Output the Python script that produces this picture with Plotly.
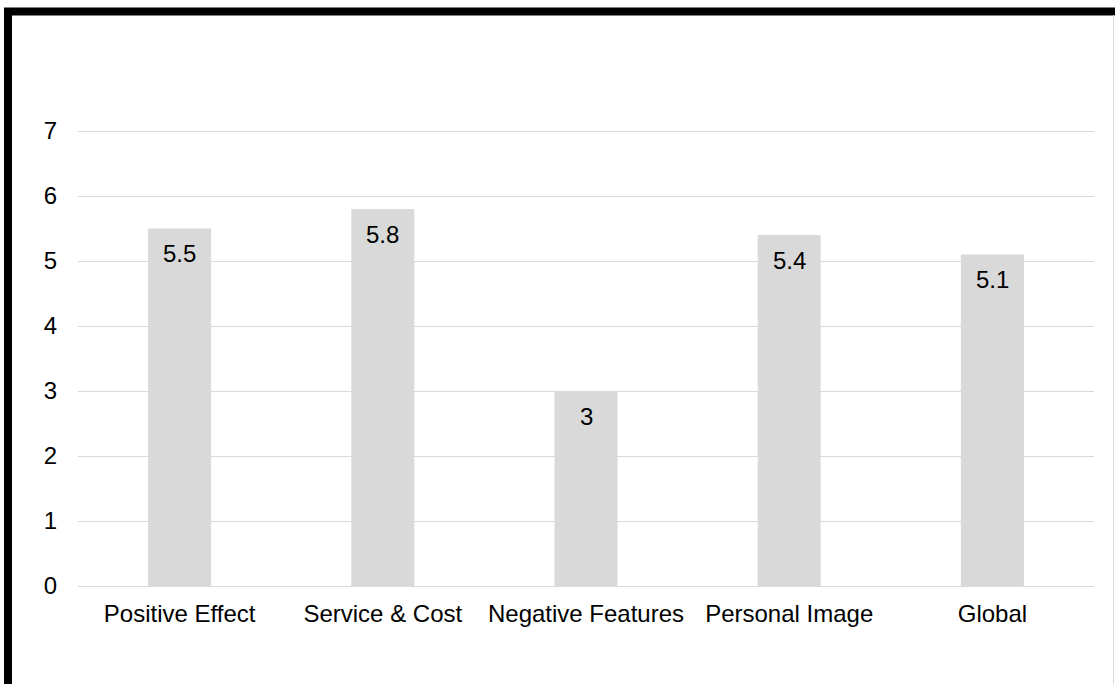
import plotly.graph_objects as go

categories = ["Positive Effect", "Service & Cost", "Negative Features", "Personal Image", "Global"]
values = [5.5, 5.8, 3, 5.4, 5.1]
value_labels = ["5.5", "5.8", "3", "5.4", "5.1"]
y_ticks = [0, 1, 2, 3, 4, 5, 6, 7]

W, H = 1115, 684
L, R, T, B = 78, 21, 128, 98
Y_TOP = (H - B - T) / 65.0
FONT = "Arial, Liberation Sans, sans-serif"

fig = go.Figure(go.Bar(x=categories, y=values, marker=dict(color="#d9d9d9", line=dict(width=0)),
                       hoverinfo="x+y"))

for c, v, t in zip(categories, values, value_labels):
    fig.add_annotation(x=c, y=v, text=t, showarrow=False, yanchor="middle", yshift=-25,
                       font=dict(family=FONT, size=24, color="#000000"))

pw = W - L - R
ph = H - T - B
def px_x(p):
    return (p - L) / pw
def px_y(p):
    return 1 - (p - T) / ph

fig.add_shape(type="rect", xref="paper", yref="paper",
              x0=px_x(8), x1=px_x(W + 20), y0=px_y(11.5), y1=px_y(H + 20),
              line=dict(color="#000000", width=8), fillcolor="rgba(0,0,0,0)", layer="above")
fig.add_shape(type="line", xref="paper", yref="paper",
              x0=px_x(1113.5), x1=px_x(1113.5), y0=px_y(15), y1=px_y(H),
              line=dict(color="#d9d9d9", width=1))

fig.update_layout(
    width=W, height=H,
    margin=dict(l=L, r=R, t=T, b=B, pad=0),
    paper_bgcolor="#ffffff", plot_bgcolor="#ffffff",
    bargap=0.69,
    showlegend=False,
    font=dict(family=FONT, size=24, color="#000000"),
    xaxis=dict(showgrid=False, showline=False, ticks="", tickfont=dict(size=24, color="#000000"),
               ticklabelstandoff=11),
    yaxis=dict(range=[0, Y_TOP], tickvals=y_ticks, showgrid=True, gridcolor="#d9d9d9", gridwidth=1,
               zeroline=True, zerolinecolor="#d9d9d9", zerolinewidth=1, showline=False, ticks="",
               tickfont=dict(size=24, color="#000000"), ticklabelstandoff=20),
)

fig.write_html("out.html", config={"displayModeBar": False},
               post_script="document.body.style.margin='0';document.body.style.overflow='hidden';")
